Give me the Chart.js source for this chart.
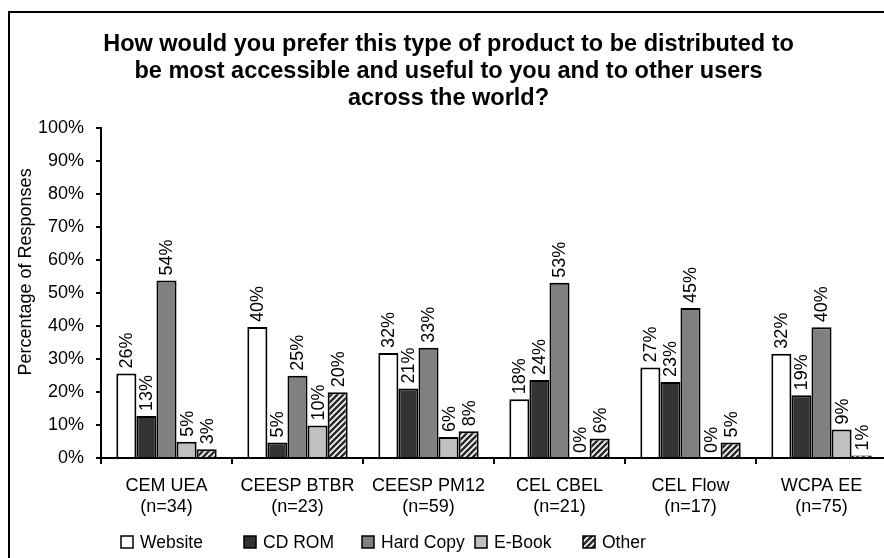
<!DOCTYPE html>
<html>
<head>
<meta charset="utf-8">
<title>Distribution preference</title>
<script src="https://cdn.jsdelivr.net/npm/chart.js@4.4.0/dist/chart.umd.min.js"></script>
<style>
  html, body { margin: 0; padding: 0; background: #fff; overflow: hidden; }
  #wrap { position: relative; width: 900px; height: 558px; }
</style>
</head>
<body>
<div id="wrap"><canvas id="chart"></canvas></div>
<script>
'use strict';

// survey groups and their respondent counts
const groups = ['CEM UEA', 'CEESP BTBR', 'CEESP PM12', 'CEL CBEL', 'CEL Flow', 'WCPA EE'];
const sampleSizes = [34, 23, 59, 21, 17, 75];

// percentage of responses per group
const website  = [25.6, 39.7, 31.8, 17.8, 27.4, 31.6];
const cdRom    = [12.7, 4.7, 21.0, 23.6, 23.0, 19.0];
const hardCopy = [53.8, 24.9, 33.4, 53.1, 45.4, 39.6];
const eBook    = [4.9, 9.8, 6.3, 0, 0, 8.6];
const other    = [2.6, 19.9, 8.1, 5.9, 4.7, 0.7];

const titleLines = [
  'How would you prefer this type of product to be distributed to',
  'be most accessible and useful to you and to other users',
  'across the world?'
];
const yTitle = 'Percentage of Responses';

const FONT = '"Liberation Sans", Arial, Helvetica, sans-serif';
Chart.defaults.font.family = FONT;
Chart.defaults.color = '#000';

/**
 * Diagonal black/white stripes used for the "Other" bars.
 */
function hatch() {
  const n = 6;
  const c = document.createElement('canvas');
  c.width = n; c.height = n;
  const g = c.getContext('2d');
  g.fillStyle = '#fff';
  g.fillRect(0, 0, n, n);
  g.strokeStyle = '#2a2a2a';
  g.lineWidth = 2.6;
  g.beginPath();
  g.moveTo(0, n); g.lineTo(n, 0);
  g.moveTo(-n / 2, n / 2); g.lineTo(n / 2, -n / 2);
  g.moveTo(n / 2, n * 1.5); g.lineTo(n * 1.5, n / 2);
  g.stroke();
  return g.createPattern(c, 'repeat');
}

const series = [
  { label: 'Website', data: website, color: '#ffffff' },
  { label: 'CD ROM', data: cdRom, color: '#333333' },
  { label: 'Hard Copy', data: hardCopy, color: '#808080' },
  { label: 'E-Book', data: eBook, color: '#c0c0c0' },
  { label: 'Other', data: other, color: hatch() }
];

// outer frame of the figure (only top and left are in view)
const frame = {
  id: 'frame',
  beforeDraw(chart) {
    const ctx = chart.ctx;
    ctx.save();
    ctx.strokeStyle = '#000';
    ctx.lineWidth = 2;
    ctx.strokeRect(9, 12, chart.width + 20, chart.height + 20);
    ctx.restore();
  }
};

// rotated axis title, sitting a little above the middle of the axis
const sideTitle = {
  id: 'sideTitle',
  afterDraw(chart) {
    const ctx = chart.ctx;
    const a = chart.chartArea;
    ctx.save();
    ctx.font = '18px ' + FONT;
    ctx.fillStyle = '#000';
    ctx.textAlign = 'center';
    ctx.textBaseline = 'middle';
    ctx.translate(26, (a.top + a.bottom) / 2 - 21);
    ctx.rotate(-Math.PI / 2);
    ctx.fillText(yTitle, 0, 0);
    ctx.restore();
  }
};

// rotated percentage labels above each bar
const barLabels = {
  id: 'barLabels',
  afterDatasetsDraw(chart) {
    const ctx = chart.ctx;
    ctx.save();
    ctx.font = '18px ' + FONT;
    ctx.fillStyle = '#000';
    ctx.textAlign = 'left';
    ctx.textBaseline = 'middle';
    chart.data.datasets.forEach((ds, i) => {
      chart.getDatasetMeta(i).data.forEach((bar, j) => {
        ctx.save();
        ctx.translate(bar.x, bar.y - 5);
        ctx.rotate(-Math.PI / 2);
        ctx.fillText(Math.round(ds.data[j]) + '%', 0, 1);
        ctx.restore();
      });
    });
    ctx.restore();
  }
};

// legend row under the category labels
const bottomLegend = {
  id: 'bottomLegend',
  afterDraw(chart) {
    const ctx = chart.ctx;
    const area = chart.chartArea;
    const y = 542;
    ctx.save();
    ctx.font = '17.5px ' + FONT;
    ctx.textAlign = 'left';
    ctx.textBaseline = 'middle';
    let bx = area.left + 20;
    chart.data.datasets.forEach((ds, i) => {
      ctx.fillStyle = ds.backgroundColor;
      ctx.fillRect(bx, y - 6, 12, 12);
      ctx.strokeStyle = '#000';
      ctx.lineWidth = 1.5;
      ctx.strokeRect(bx, y - 6, 12, 12);
      ctx.fillStyle = '#000';
      ctx.fillText(ds.label, bx + 19, y + 1);
      bx += 123 - i * 5;
    });
    ctx.restore();
  }
};

new Chart(document.getElementById('chart'), {
  type: 'bar',
  data: {
    labels: groups.map((g, i) => [g, '(n=' + sampleSizes[i] + ')']),
    datasets: series.map(s => ({
      label: s.label,
      data: s.data,
      backgroundColor: s.color,
      borderColor: '#000',
      borderWidth: 2,
      barPercentage: 1,
      categoryPercentage: 0.766
    }))
  },
  options: {
    responsive: true,
    maintainAspectRatio: false,
    devicePixelRatio: 1,
    animation: false,
    layout: { padding: { left: 10, right: 13, top: 12, bottom: 28 } },
    plugins: {
      legend: { display: false },
      tooltip: { enabled: false },
      title: {
        display: true,
        text: titleLines,
        color: '#000',
        font: { size: 23.5, weight: 'bold', lineHeight: 27 / 23.5 },
        padding: { top: 19, bottom: 16 }
      }
    },
    scales: {
      x: {
        grid: {
          offset: true,
          drawOnChartArea: false,
          drawTicks: true,
          tickLength: 6,
          color: '#000',
          lineWidth: 2
        },
        border: { color: '#000', width: 2 },
        ticks: {
          color: '#000',
          font: { size: 18, lineHeight: 1.17 },
          padding: 12,
          maxRotation: 0,
          autoSkip: false
        }
      },
      y: {
        min: 0,
        max: 100,
        afterFit(scale) { scale.width = 91; },
        grid: {
          drawOnChartArea: false,
          drawTicks: true,
          tickLength: 5,
          color: '#000',
          lineWidth: 2
        },
        border: { color: '#000', width: 2 },
        ticks: {
          stepSize: 10,
          color: '#000',
          font: { size: 18 },
          padding: 12,
          callback: v => v + '%'
        }
      }
    }
  },
  plugins: [frame, sideTitle, barLabels, bottomLegend]
});
</script>
</body>
</html>
